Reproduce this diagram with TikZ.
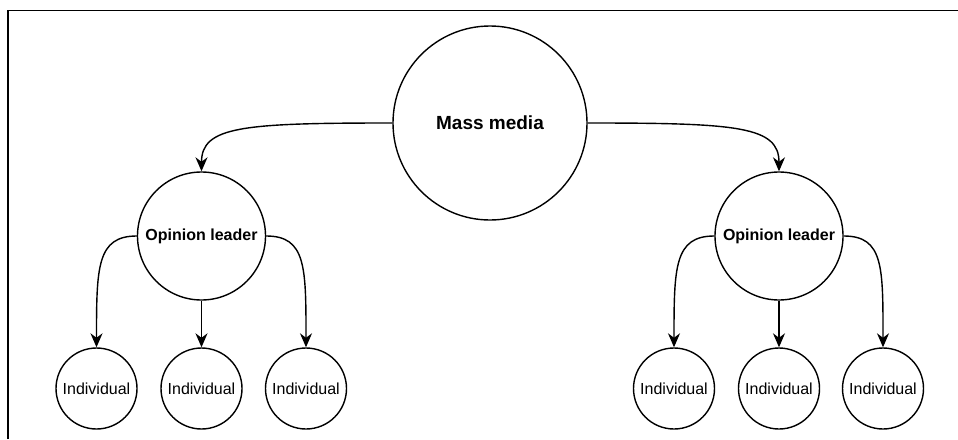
\documentclass[tikz,border=0pt]{standalone}
\usepackage{fontspec}
\setmainfont{Liberation Sans}
\usetikzlibrary{arrows.meta}
\begin{document}
\begin{tikzpicture}[x=1pt,y=-1pt,
  circ/.style={circle,draw,line width=1.4pt,inner sep=0pt,fill=white},
  big/.style={circ,minimum size=194pt,font=\fontsize{19}{22}\selectfont\bfseries},
  leader/.style={circ,minimum size=128pt,font=\fontsize{16}{19}\selectfont\bfseries},
  indiv/.style={circ,minimum size=81pt,font=\fontsize{16}{19}\selectfont},
  conn/.style={line width=1.4pt,-{Stealth[length=14pt,width=12pt,inset=4.5pt]}}]
\useasboundingbox (0,0) rectangle (958,439);
\draw[line width=1.6pt] (8,439) -- (8,10.5) -- (958,10.5);
\node[big] (mm) at (490,123) {Mass media};
\node[leader] (ol1) at (201.5,236) {Opinion leader};
\node[leader] (ol2) at (779,236) {Opinion leader};
\node[indiv] (a1) at (96.5,388.5) {Individual};
\node[indiv] (a2) at (201.5,388.5) {Individual};
\node[indiv] (a3) at (306,388.5) {Individual};
\node[indiv] (b1) at (674,388.5) {Individual};
\node[indiv] (b2) at (779,388.5) {Individual};
\node[indiv] (b3) at (883,388.5) {Individual};
\draw[conn] (mm.west) .. controls +(-150,0) and +(0,-45) .. (ol1.north);
\draw[conn] (mm.east) .. controls +(150,0) and +(0,-45) .. (ol2.north);
\foreach \o/\l/\m/\r in {ol1/a1/a2/a3,ol2/b1/b2/b3}{
  \draw[conn] (\o.west) .. controls +(-40,0) and +(0,-80) .. (\l.north);
  \draw[conn] (\o.south) -- (\m.north);
  \draw[conn] (\o.east) .. controls +(40,0) and +(0,-80) .. (\r.north);
}
\end{tikzpicture}
\end{document}
